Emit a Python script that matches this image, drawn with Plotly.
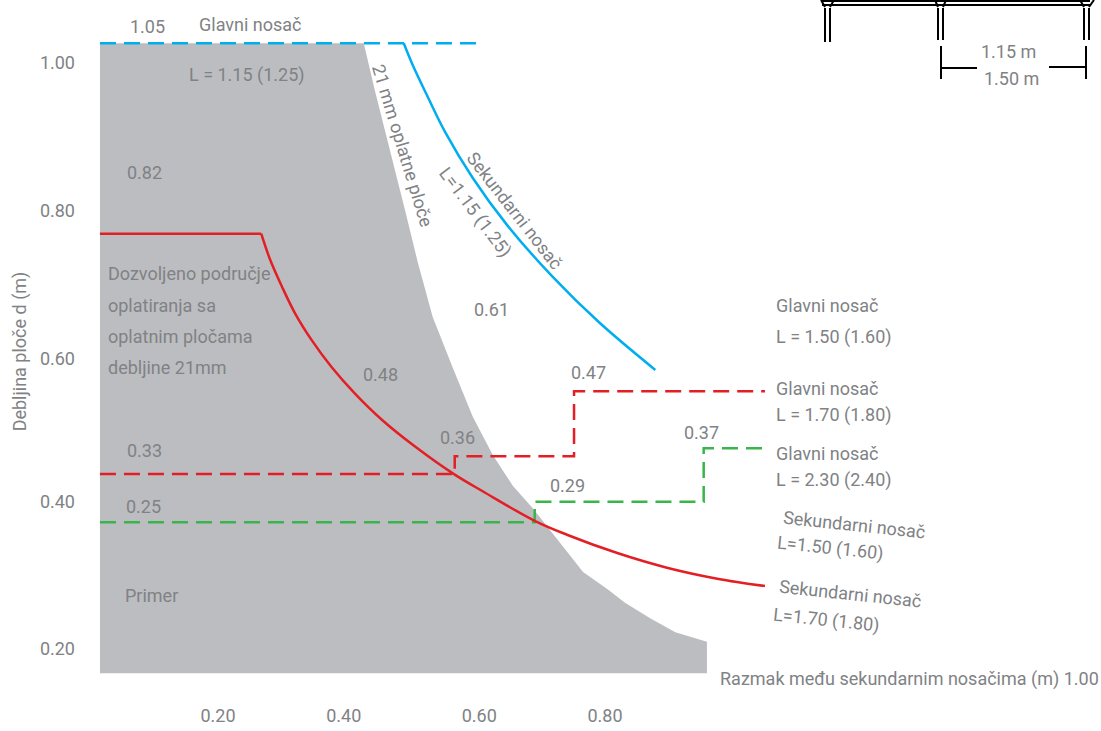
import plotly.graph_objects as go

W, H = 1101, 731
L, B = 76, 28
FONT = "Roboto"
SIZE = 18
GREY = "#808285"

# Allowed region (spacing, thickness)
region_x = [0.017, 0.426, 0.443, 0.464, 0.490, 0.510, 0.533, 0.564, 0.595, 0.626, 0.657, 0.688,
            0.715, 0.766, 0.805, 0.831, 0.870, 0.909, 0.958, 0.958, 0.017]
region_y = [1.027, 1.027, 0.963, 0.891, 0.799, 0.727, 0.653, 0.584, 0.517, 0.465, 0.423, 0.392,
            0.362, 0.305, 0.281, 0.263, 0.242, 0.223, 0.210, 0.167, 0.167]

# Secondary beam curves
blue_x = [0.488, 0.502, 0.524, 0.552, 0.595, 0.648, 0.719, 0.792, 0.878]
blue_y = [1.027, 0.997, 0.956, 0.906, 0.843, 0.779, 0.708, 0.645, 0.581]
red_flat_x = [0.017, 0.267]
red_flat_y = [0.767, 0.767]
red_x = [0.267, 0.281, 0.299, 0.319, 0.345, 0.376, 0.412, 0.454, 0.506, 0.567, 0.611, 0.691,
         0.741, 0.819, 0.896, 0.974, 1.048]
red_y = [0.767, 0.731, 0.695, 0.659, 0.622, 0.585, 0.549, 0.513, 0.476, 0.438, 0.415, 0.375,
         0.356, 0.331, 0.311, 0.296, 0.286]

# Main beam limits
blue_dash_x = [0.017, 0.602]
blue_dash_y = [1.027, 1.027]
red_dash_x = [0.017, 0.567, 0.567, 0.752, 0.752, 1.048]
red_dash_y = [0.439, 0.439, 0.463, 0.463, 0.552, 0.552]
green_dash_x = [0.017, 0.691, 0.691, 0.953, 0.953, 1.048]
green_dash_y = [0.373, 0.373, 0.401, 0.401, 0.474, 0.474]

# Tick labels
x_tick_pos = [0.200, 0.395, 0.605, 0.800]
x_tick_text = ["0.20", "0.40", "0.60", "0.80"]
y_tick_pos = [1.000, 0.798, 0.596, 0.401, 0.200]
y_tick_text = ["1.00", "0.80", "0.60", "0.40", "0.20"]

x_range = [0.2 + (L - 218) / 645, 0.2 + (W - 218) / 645]
y_range = [0.2 + (649 - (H - B)) / 732.5, 0.2 + 649 / 732.5]


def px(x):
    return (x - L) / (W - L)


def py(y):
    return 1 - y / (H - B)


fig = go.Figure()
fig.add_trace(go.Scatter(x=region_x, y=region_y, mode="lines", fill="toself",
                         fillcolor="#bcbdc0", line=dict(width=0), hoverinfo="skip"))
for xs, ys, col in [(blue_dash_x, blue_dash_y, "#00aeef"),
                    (red_dash_x, red_dash_y, "#e31f26"),
                    (green_dash_x, green_dash_y, "#39b54a")]:
    fig.add_trace(go.Scatter(x=xs, y=ys, mode="lines",
                             line=dict(color=col, width=2.5, dash="16px,8px")))
fig.add_trace(go.Scatter(x=blue_x, y=blue_y, mode="lines",
                         line=dict(color="#00aeef", width=2.5, shape="spline", smoothing=1)))
fig.add_trace(go.Scatter(x=red_flat_x, y=red_flat_y, mode="lines", line=dict(color="#e31f26", width=2.5)))
fig.add_trace(go.Scatter(x=red_x, y=red_y, mode="lines",
                         line=dict(color="#e31f26", width=2.5, shape="spline", smoothing=1)))

labels = [
    ("1.05", 147, 26, 0, "center"), ("Glavni nosač", 250, 24, 0, "center"),
    ("L = 1.15 (1.25)", 247, 75, 0, "center"), ("0.82", 144, 172, 0, "center"),
    ("Dozvoljeno područje", 106, 274, 0, "left"), ("oplatiranja sa", 106, 305, 0, "left"),
    ("oplatnim pločama", 106, 337, 0, "left"), ("debljine 21mm", 106, 368, 0, "left"),
    ("0.48", 380, 375, 0, "center"), ("0.33", 144, 451, 0, "center"),
    ("0.25", 143, 506, 0, "center"), ("0.36", 457, 437, 0, "center"),
    ("0.61", 491, 310, 0, "center"), ("0.47", 588, 372, 0, "center"),
    ("0.37", 701, 433, 0, "center"), ("0.29", 567, 485, 0, "center"),
    ("Primer", 151, 595, 0, "center"),
    ("Glavni nosač", 774, 306, 0, "left"), ("L = 1.50 (1.60)", 774, 337, 0, "left"),
    ("Glavni nosač", 774, 388, 0, "left"), ("L = 1.70 (1.80)", 774, 415, 0, "left"),
    ("Glavni nosač", 774, 453, 0, "left"), ("L = 2.30 (2.40)", 774, 480, 0, "left"),
    ("Sekundarni nosač", 854, 524, 6, "center"), ("L=1.50 (1.60)", 830, 548, 6, "center"),
    ("Sekundarni nosač", 850, 593, 6, "center"), ("L=1.70 (1.80)", 826, 620, 6, "center"),
    ("Razmak među sekundarnim nosačima (m) 1.00", 909, 679, 0, "center"),
    ("21 mm oplatne ploče", 403, 145, 73, "center"),
    ("Sekundarni nosač", 515, 210, 52, "center"),
    ("L=1.15 (1.25)", 475, 212, 53, "center"),
    ("1.15 m", 1008, 52, 0, "center"), ("1.50 m", 1011, 78, 0, "center"),
]
annotations = [dict(text=t, x=px(x), y=py(y), xref="paper", yref="paper", showarrow=False,
                    xanchor=a, yanchor="middle", textangle=ang,
                    font=dict(family=FONT, size=SIZE, color=GREY))
               for t, x, y, ang, a in labels]

# Small formwork sketch, top right
sketch = [
    (822, 1, 1090, 1, 2), (822, 5, 1090, 5, 2),
    (825, 8, 825, 42, 2), (830, 8, 830, 42, 2),
    (938, 8, 938, 40, 2), (943, 8, 943, 40, 2),
    (1084, 8, 1084, 40, 2), (1089, 8, 1089, 40, 2),
    (821, 0, 825, 7, 2), (834, 0, 830, 7, 2),
    (935, 0, 938, 7, 2), (946, 0, 943, 7, 2),
    (1080, 0, 1084, 7, 2), (1094, 0, 1089, 7, 2),
    (941, 46, 941, 79, 2), (1086, 46, 1086, 79, 2),
    (941, 68, 977, 68, 2), (1049, 67, 1086, 67, 2),
]
shapes = [dict(type="line", xref="paper", yref="paper", x0=px(a), y0=py(b), x1=px(c), y1=py(d),
               line=dict(color="black", width=w)) for a, b, c, d, w in sketch]

fig.update_layout(
    width=W, height=H, margin=dict(l=L, r=0, t=0, b=B), autosize=False,
    paper_bgcolor="white", plot_bgcolor="white", showlegend=False,
    annotations=annotations, shapes=shapes,
    font=dict(family=FONT, size=SIZE, color=GREY),
    xaxis=dict(range=x_range, tickvals=x_tick_pos, ticktext=x_tick_text, showgrid=False,
               zeroline=False, showline=False, ticks="", tickfont=dict(family=FONT, size=SIZE, color=GREY)),
    yaxis=dict(range=y_range, tickvals=y_tick_pos, ticktext=y_tick_text, showgrid=False,
               zeroline=False, showline=False, ticks="", tickfont=dict(family=FONT, size=SIZE, color=GREY),
               title=dict(text="Debljina ploče d (m)", standoff=8,
                          font=dict(family=FONT, size=SIZE, color=GREY))),
)
fig.write_html("out.html", config=dict(displayModeBar=False),
               post_script="document.body.style.margin='0';document.documentElement.style.overflow='hidden';")
